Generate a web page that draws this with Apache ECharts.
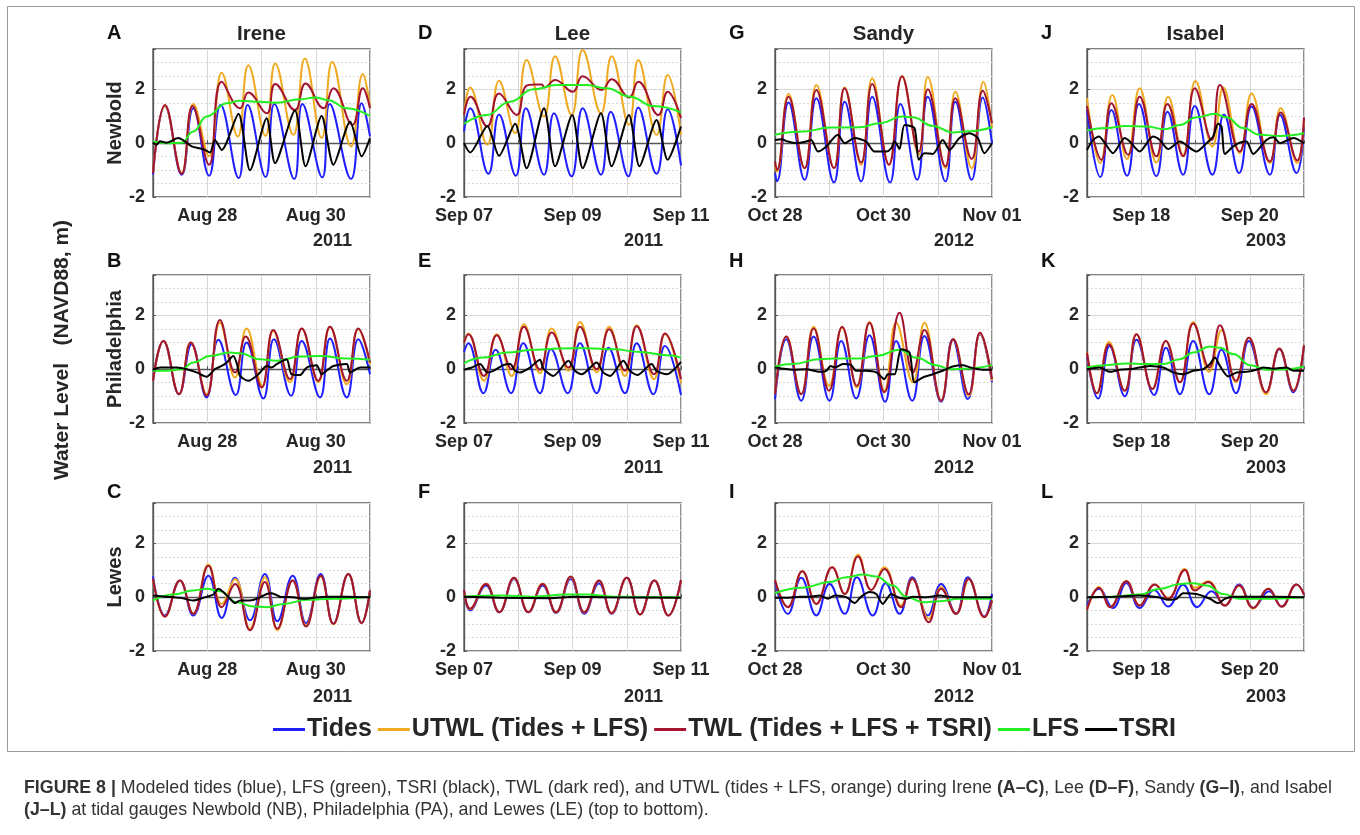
<!DOCTYPE html>
<html><head><meta charset="utf-8">
<script src="https://cdn.jsdelivr.net/npm/echarts@6/dist/echarts.min.js"></script>
<style>html,body{margin:0;padding:0;background:#fff}#c{width:1360px;height:835px}</style>
</head><body><div id="c"></div>
<script>
// ---- labels ----
const seriesNames = ['Tides','UTWL (Tides + LFS)','TWL (Tides + LFS + TSRI)','LFS','TSRI'];
const storms = ['Irene','Lee','Sandy','Isabel'];
const gauges = ['Newbold','Philadelphia','Lewes'];
const panelLetters = [['A','D','G','J'],['B','E','H','K'],['C','F','I','L']];
const xLabelsIrene = ['', 'Aug 28', '', 'Aug 30', ''];
const xLabelsLee = ['Sep 07', '', 'Sep 09', '', 'Sep 11'];
const xLabelsSandy = ['Oct 28', '', 'Oct 30', '', 'Nov 01'];
const xLabelsIsabel = ['', 'Sep 18', '', 'Sep 20', ''];
const years = ['2011','2011','2012','2003'];
const yTickLabels = [-2, 0, 2];
// x values: hours from panel start (4 days); y: water level (m)
// ---- Irene / Newbold (A) ----
const A_tides=[[0,-1.17],[5.3,1.38],[12.7,-1.17],[17.8,1.30],[24.8,-1.21],[29.9,1.42],[37.9,-1.30],[41.9,1.42],[49.8,-1.26],[53.7,1.46],[62.5,-1.33],[66.1,1.46],[74.9,-1.27],[78.2,1.46],[87.6,-1.33],[92.3,1.48],[96,0.25]];
const A_utwl=[[0,-1.11],[5.3,1.38],[12.7,-1.11],[17.8,1.46],[24.8,-0.49],[30.4,2.62],[37.5,0.25],[42.2,2.90],[49.8,0.27],[54.1,2.96],[62.1,0.31],[67.2,3.15],[74.6,0.19],[79.3,3.02],[87.6,-0.12],[92.8,2.57],[96,1.36]];
const A_twl=[[0,-1.11],[5.3,1.42],[12.7,-1.14],[17.5,1.38],[24.8,-0.80],[30.4,2.28],[38.5,1.30],[42.2,1.88],[50.3,1.11],[54.1,2.20],[62.8,1.23],[67.5,2.22],[75.4,1.30],[79.8,2.04],[88.2,0.68],[92.8,2.04],[96,1.30]];
const A_lfs=[[0,0.06],[6.0,0],[12.7,0.02],[17.8,0.43],[23.7,0.99],[32.6,1.48],[38.5,1.58],[47.3,1.54],[54.7,1.50],[65.0,1.63],[71.7,1.70],[77.6,1.60],[85.7,1.30],[96,1.01]];
const A_tsri=[[0,0.02],[1.6,-0.06],[3.1,0.07],[6.0,0.02],[11.2,0.19],[14.2,0.06],[17.1,-0.12],[22.3,-0.22],[25.2,-0.35],[27.4,0.12],[30.4,-0.25],[37.8,1.09],[42.9,-1.01],[50.3,0.93],[54.0,-0.74],[62.8,1.21],[67.5,-0.86],[74.6,1.01],[79.8,-0.80],[87.2,0.80],[92.3,-0.49],[96,0.19]];
// ---- Lee / Newbold (D) ----
const D_tides=[[0,0.43],[2.7,1.30],[10.8,-1.14],[15.5,1.07],[22.9,-1.21],[27.4,1.30],[35.4,-1.17],[39.8,1.11],[47.6,-1.23],[52.5,1.30],[60.6,-1.17],[64.9,1.17],[72.7,-1.23],[77.1,1.33],[85.2,-1.14],[90.1,1.26],[96,-0.83]];
const D_utwl=[[0,1.05],[2.7,2.07],[10.3,-0.06],[15.5,2.32],[22.6,0.37],[27.7,3.09],[35.4,0.99],[40.3,3.23],[47.6,1.05],[52.5,3.46],[60.6,1.11],[65.3,3.23],[73.0,0.68],[77.1,3.09],[85.2,0.31],[90.1,2.53],[96,0.31]];
const D_twl=[[0,1.05],[2.9,1.73],[10.3,0.62],[15.5,1.85],[23.3,1.05],[27.4,2.12],[31.5,2.18],[34.4,2.18],[35.6,2.07],[40.3,2.35],[48.1,1.91],[52.5,2.49],[60.9,1.98],[65.3,2.38],[73.1,1.70],[77.1,2.28],[86.0,1.05],[90.1,1.91],[96,0.93]];
const D_lfs=[[0,0.72],[10.0,1.05],[20.4,1.54],[30.7,2.00],[41.0,2.16],[54.3,2.16],[63.1,2.04],[73.4,1.73],[83.8,1.38],[96,1.14]];
const D_tsri=[[0,0],[2.7,-0.35],[10.3,0.64],[15.5,-0.47],[22.6,0.72],[27.7,-0.93],[35.4,1.30],[40.3,-0.86],[47.9,1.05],[52.5,-0.93],[60.6,1.11],[65.3,-0.86],[73.0,1.05],[77.6,-0.86],[85.2,0.86],[90.1,-0.62],[96,0.62]];
// ---- Sandy / Newbold (G) ----
const G_tides=[[0,-1.11],[0.9,-1.42],[6.0,1.51],[13.1,-1.36],[18.3,1.67],[26.1,-1.46],[30.8,1.54],[38.1,-1.42],[43.0,1.73],[50.9,-1.46],[55.5,1.46],[62.9,-1.36],[67.6,1.73],[75.4,-1.42],[79.8,1.54],[87.0,-1.36],[91.9,1.70],[96,0]];
const G_utwl=[[0,-0.86],[0.9,-1.05],[6.0,1.83],[13.1,-0.93],[18.3,2.16],[26.1,-0.93],[30.8,2.07],[38.1,-0.80],[43.0,2.41],[50.4,-0.80],[56.2,2.49],[63.6,-0.43],[67.6,2.47],[75.4,-0.93],[79.8,1.91],[87.0,-0.93],[92.2,2.28],[96,0.56]];
const G_twl=[[0,-0.68],[0.9,-0.99],[6.0,1.73],[13.1,-0.93],[18.3,1.98],[26.1,-0.93],[30.8,2.04],[38.1,-0.72],[43.0,2.20],[50.4,-0.80],[56.2,2.49],[63.6,-0.31],[67.6,2.00],[75.4,-0.86],[79.8,1.67],[87.0,-0.59],[91.9,1.95],[96,0.74]];
const G_lfs=[[0,0.31],[12.4,0.43],[24.1,0.58],[37.4,0.59],[46.2,0.74],[56.5,0.99],[61.0,0.96],[69.8,0.64],[78.6,0.40],[84.4,0.43],[96,0.59]];
const G_tsri=[[0,0.12],[2.8,0.15],[5.7,0.06],[9.4,0],[13.8,0.06],[16.0,0.12],[19.0,-0.31],[22.7,-0.12],[27.8,0.31],[30.8,0],[35.2,0.19],[40.3,0.06],[44.0,-0.31],[49.2,-0.31],[51.4,-0.19],[52.9,0.06],[55.1,-0.22],[57.3,0.68],[61.7,0.56],[63.6,-0.62],[66.1,-0.37],[69.8,-0.40],[74.2,0.12],[77.2,-0.25],[81.6,0.19],[86.0,0.37],[89.7,0.19],[92.6,-0.37],[96,0]];
// ---- Isabel / Newbold (J) ----
const J_tides=[[0,1.23],[5.9,-1.26],[10.8,1.23],[17.7,-1.21],[23.0,1.46],[30.7,-1.23],[35.6,1.17],[42.5,-1.17],[47.7,1.38],[55.5,-1.17],[60.6,1.07],[67.3,-1.11],[72.8,1.36],[80.9,-1.17],[85.4,1.05],[92.7,-1.11],[96,0.62]];
const J_utwl=[[0,1.67],[5.9,-0.74],[11.2,1.79],[17.7,-0.59],[23.3,2.04],[30.7,-0.72],[35.9,1.73],[42.5,-0.43],[48.0,2.31],[55.5,-0.12],[60.3,2.07],[67.6,-0.37],[72.8,1.85],[80.9,-0.74],[85.7,1.30],[93.0,-0.74],[96,0.93]];
const J_twl=[[0,1.38],[6.4,-0.62],[10.8,1.48],[18.2,-0.43],[23.3,1.73],[30.7,-0.49],[35.6,1.46],[42.5,-0.49],[47.7,2.04],[55.1,0.12],[58.8,2.16],[67.6,-0.31],[72.8,1.46],[80.9,-0.68],[85.7,1.14],[93.0,-0.64],[96,0.96]];
const J_lfs=[[0,0.47],[8.6,0.56],[17.4,0.64],[26.3,0.62],[34.4,0.52],[41.1,0.68],[48.4,0.96],[56.6,1.09],[61.7,0.96],[69.1,0.56],[76.5,0.31],[85.4,0.27],[96,0.37]];
const J_tsri=[[0,-0.25],[2.7,0.12],[5.3,0.25],[7.8,0.02],[11.5,-0.37],[16.7,0.19],[18.9,0.06],[23.3,-0.31],[29.2,0.25],[32.2,0.12],[35.9,-0.22],[41.1,0.06],[48.4,-0.31],[52.9,0],[55.8,0.25],[58.0,0.72],[59.5,0.62],[61.0,-0.40],[64.7,-0.12],[67.6,0.02],[70.6,0.06],[73.5,-0.40],[79.4,0.12],[82.4,0.22],[85.4,0],[91.3,0.19],[96,0]];
// ---- Irene / Philadelphia (B) ----
const B_tides=[[0,-0.43],[4.6,1.05],[11.5,-0.93],[17.1,0.93],[23.7,-1.05],[28.9,1.09],[36.6,-0.96],[41.4,0.99],[48.8,-1.09],[53.5,1.11],[61.1,-0.99],[65.8,1.05],[73.9,-1.05],[78.3,1.14],[85.7,-1.05],[90.8,1.11],[96,-0.19]];
const B_utwl=[[0,-0.43],[4.6,1.05],[11.5,-0.93],[16.7,0.99],[23.7,-0.93],[29.6,1.73],[36.3,-0.31],[41.4,1.51],[48.4,-0.62],[53.2,1.42],[60.6,-0.49],[65.8,1.51],[73.1,-0.49],[78.3,1.58],[85.7,-0.56],[90.8,1.48],[96,0.19]];
const B_twl=[[0,-0.43],[4.6,1.05],[11.5,-0.93],[16.7,0.99],[23.7,-0.99],[29.6,1.83],[36.3,-0.12],[41.0,1.21],[48.1,-0.68],[53.2,1.46],[60.6,-0.37],[65.8,1.51],[73.1,-0.43],[78.3,1.58],[85.7,-0.43],[90.8,1.51],[96,0.25]];
const B_lfs=[[0,-0.06],[6.0,-0.06],[12.7,0],[17.8,0.25],[25.2,0.49],[34.0,0.62],[38.5,0.59],[47.3,0.37],[54.7,0.31],[65.0,0.47],[73.9,0.49],[85.7,0.40],[96,0.35]];
const B_tsri=[[0,-0.02],[3.1,0.06],[10.5,0.06],[14.9,0],[19.3,-0.12],[23.7,-0.28],[27.4,0],[30.4,0.12],[32.6,0.25],[35.5,0.49],[37.3,0.15],[38.5,-0.25],[42.2,-0.43],[46.6,-0.19],[50.3,0.12],[52.5,0.06],[54.7,0.19],[59.1,0.37],[61.3,-0.19],[65.0,-0.22],[68.0,0.06],[72.4,0.15],[74.6,-0.19],[77.6,0],[79.8,0.12],[85.7,0.19],[87.2,-0.12],[91.6,0.06],[96,0.06]];
// ---- Lee / Philadelphia (E) ----
const E_tides=[[0,0.64],[1.9,0.96],[8.6,-0.89],[14.0,0.72],[20.8,-0.89],[26.2,0.96],[33.6,-0.89],[38.5,0.74],[45.9,-0.89],[51.3,0.96],[58.7,-0.89],[63.9,0.80],[71.2,-0.89],[76.4,0.96],[83.8,-0.93],[88.9,0.86],[96,-0.96]];
const E_utwl=[[0,0.99],[1.9,1.33],[8.8,-0.43],[14.5,1.30],[21.1,-0.25],[26.5,1.67],[33.6,-0.15],[38.8,1.51],[46.2,-0.06],[51.3,1.75],[58.7,-0.12],[64.2,1.58],[71.2,-0.25],[76.4,1.63],[84.1,-0.37],[88.9,1.30],[96,-0.52]];
const E_twl=[[0,0.99],[1.9,1.30],[8.8,-0.25],[14.5,1.26],[21.1,0],[26.5,1.58],[33.6,-0.02],[38.8,1.36],[46.2,0.06],[51.3,1.58],[58.7,0],[64.2,1.48],[71.2,-0.06],[76.4,1.60],[84.1,-0.19],[88.9,1.33],[96,-0.37]];
const E_lfs=[[0,0.22],[8.6,0.43],[18.9,0.62],[30.7,0.72],[42.5,0.77],[54.3,0.78],[66.1,0.74],[77.9,0.64],[89.7,0.52],[96,0.43]];
const E_tsri=[[0,-0.02],[3.4,0.06],[7.1,0.19],[10.3,-0.12],[13.0,-0.06],[17.4,0.15],[20.4,0.19],[22.6,-0.06],[24.8,-0.12],[29.2,0.06],[33.6,0.35],[35.1,0.02],[39.5,-0.25],[46.2,0.31],[49.1,-0.06],[52.1,-0.19],[58.7,0.25],[61.6,-0.12],[64.6,-0.25],[70.5,0.31],[73.4,-0.06],[76.7,-0.22],[83.0,0.19],[85.2,-0.06],[89.7,-0.19],[96,0.27]];
// ---- Sandy / Philadelphia (H) ----
const H_tides=[[0,-1.11],[5.0,1.11],[11.6,-1.17],[17.1,1.21],[24.1,-1.17],[29.3,1.05],[35.9,-1.09],[41.8,1.26],[48.7,-1.21],[53.6,1.05],[60.7,-1.17],[66.1,1.23],[73.5,-1.21],[78.6,1.11],[85.3,-1.11],[90.7,1.30],[96,-0.49]];
const H_utwl=[[0,-0.93],[5.0,1.21],[11.6,-0.93],[17.1,1.58],[23.9,-0.62],[29.7,1.54],[36.2,-0.68],[41.8,1.75],[48.4,-0.80],[53.6,1.73],[61.0,-0.49],[66.1,1.73],[73.5,-1.17],[78.9,1.11],[85.7,-0.99],[90.7,1.33],[96,-0.43]];
const H_twl=[[0,-0.93],[5.0,1.21],[11.6,-0.93],[17.1,1.51],[23.9,-0.80],[29.7,1.58],[36.2,-0.62],[41.8,1.73],[48.4,-0.86],[55.1,2.10],[61.0,-0.12],[66.1,1.46],[73.5,-1.17],[78.9,1.11],[85.7,-0.93],[90.7,1.36],[96,-0.37]];
const H_lfs=[[0,0.10],[8.0,0.19],[19.7,0.37],[27.1,0.40],[37.4,0.40],[44.8,0.49],[55.1,0.72],[62.4,0.43],[71.3,0.15],[77.2,0],[84.4,0.02],[96,0.15]];
const H_tsri=[[0,0.06],[8.0,-0.02],[13.8,0],[19.7,-0.10],[22.7,-0.06],[24.6,0.12],[26.4,0.06],[30.0,0.19],[33.7,0.15],[35.9,-0.06],[40.3,-0.06],[44.8,-0.12],[48.4,-0.37],[49.9,-0.19],[52.9,-0.19],[55.8,0.74],[59.5,0.62],[61.7,-0.49],[65.4,-0.31],[69.8,-0.19],[74.2,-0.06],[78.6,0.10],[83.0,0.15],[86.7,0.06],[91.9,-0.02],[96,-0.02]];
// ---- Isabel / Philadelphia (K) ----
const K_tides=[[0,0.50],[4.9,-1.09],[10.0,0.86],[16.7,-1.01],[21.9,1.09],[29.7,-0.96],[34.9,0.80],[41.1,-0.93],[47.0,1.05],[54.1,-0.93],[59.5,0.72],[65.9,-0.89],[71.6,1.05],[79.2,-0.89],[85.1,0.74],[91.3,-0.86],[96,0.86]];
const K_utwl=[[0,0.62],[4.4,-0.89],[9.7,1.01],[16.7,-0.80],[21.9,1.30],[28.9,-0.74],[34.9,1.05],[41.1,-0.49],[47.0,1.75],[54.1,-0.10],[59.5,1.45],[65.9,-0.49],[71.6,1.17],[79.2,-0.93],[85.1,0.77],[91.3,-0.80],[96,0.89]];
const K_twl=[[0,0.62],[4.4,-0.89],[9.7,0.93],[16.7,-0.80],[21.9,1.30],[28.9,-0.74],[34.9,1.05],[41.1,-0.49],[47.0,1.70],[54.1,0.06],[58.8,1.63],[65.9,-0.43],[71.6,1.17],[79.2,-0.86],[85.1,0.77],[91.3,-0.80],[96,0.89]];
const K_lfs=[[0,0.06],[8.6,0.15],[17.4,0.21],[26.3,0.19],[33.7,0.19],[41.1,0.37],[47.0,0.62],[54.4,0.84],[58.8,0.80],[64.7,0.56],[72.1,0.15],[79.4,-0.02],[88.3,0],[96,0.10]];
const K_tsri=[[0,0],[5.6,0.06],[10.0,-0.10],[14.5,-0.02],[20.4,0.02],[27.8,0.12],[33.7,0.06],[38.1,-0.12],[42.5,-0.19],[47.0,-0.06],[51.4,0],[54.4,0.19],[56.6,0.43],[58.8,0.12],[62.5,-0.27],[66.2,-0.12],[70.6,-0.10],[75.0,-0.02],[78.0,0.06],[82.4,0.02],[88.3,0.06],[91.3,-0.06],[96,-0.06]];
// ---- Irene / Lewes (C) ----
const C_tides=[[0,0.77],[5.3,-0.68],[11.9,0.62],[17.8,-0.68],[24.5,0.80],[30.4,-0.77],[36.3,0.72],[42.9,-0.86],[49.5,0.86],[55.0,-0.89],[61.8,0.80],[67.7,-0.96],[74.2,0.86],[79.8,-0.99],[86.4,0.86],[92.3,-0.96],[96,0.25]];
const C_utwl=[[0,0.68],[5.3,-0.72],[11.9,0.62],[17.8,-0.62],[24.5,1.21],[30.4,-0.25],[36.3,0.68],[42.9,-1.17],[49.5,0.74],[55.0,-1.23],[61.8,0.62],[67.7,-1.05],[74.2,0.77],[79.8,-1.01],[86.4,0.86],[92.3,-0.96],[96,0.25]];
const C_twl=[[0,0.68],[5.3,-0.72],[11.9,0.62],[17.8,-0.62],[24.5,1.17],[30.4,-0.37],[36.3,0.49],[42.9,-1.23],[49.5,0.56],[55.0,-1.17],[61.8,0.62],[67.7,-1.09],[74.2,0.80],[79.8,-0.99],[86.4,0.86],[92.3,-0.96],[96,0.25]];
const C_lfs=[[0,-0.12],[9.0,0.10],[17.8,0.25],[23.7,0.31],[29.6,0.22],[37.0,-0.19],[44.4,-0.35],[50.3,-0.37],[57.7,-0.25],[68.0,-0.10],[79.8,-0.06],[96,0.02]];
const C_tsri=[[0,0.06],[6.0,0.02],[11.9,-0.02],[17.8,-0.12],[22.3,-0.02],[26.7,0.10],[28.9,0.31],[31.1,0.19],[34.1,-0.06],[36.3,-0.22],[38.5,-0.12],[42.9,-0.12],[45.9,-0.06],[50.3,0.12],[52.5,0.15],[56.2,0.02],[62.1,0],[67.2,-0.06],[70.9,-0.02],[76.8,0.02],[85.7,0.02],[96,0]];
// ---- Lee / Lewes (F) ----
const F_tides=[[0,0.25],[2.7,-0.49],[9.7,0.43],[15.6,-0.56],[22.1,0.68],[28.5,-0.56],[34.8,0.43],[40.7,-0.59],[47.2,0.68],[53.2,-0.62],[59.7,0.52],[65.3,-0.62],[72.0,0.72],[77.9,-0.64],[84.2,0.62],[90.4,-0.68],[96,0.64]];
const F_utwl=[[0,0.25],[2.7,-0.45],[9.7,0.50],[15.6,-0.55],[22.1,0.70],[28.5,-0.55],[34.8,0.50],[40.7,-0.57],[47.2,0.74],[53.2,-0.57],[59.7,0.60],[65.3,-0.60],[72.0,0.72],[77.9,-0.64],[84.2,0.62],[90.4,-0.68],[96,0.64]];
const F_twl=[[0,0.27],[2.7,-0.43],[9.7,0.49],[15.6,-0.56],[22.1,0.72],[28.5,-0.56],[34.8,0.49],[40.7,-0.56],[47.2,0.77],[53.2,-0.56],[59.7,0.62],[65.3,-0.59],[72.0,0.72],[77.9,-0.64],[84.2,0.62],[90.4,-0.68],[96,0.64]];
const F_lfs=[[0,0.02],[15.9,0.06],[30.7,0.02],[45.4,0.10],[54.3,0.10],[66.1,0.02],[96,0]];
const F_tsri=[[0,0.02],[15.9,-0.02],[38.0,-0.04],[48.4,0.02],[63.1,0],[96,-0.02]];
// ---- Sandy / Lewes (I) ----
const I_tides=[[0,0.56],[5.7,-0.62],[11.6,0.72],[18.3,-0.68],[24.1,0.49],[30.8,-0.62],[36.2,0.74],[43.3,-0.68],[48.9,0.52],[55.1,-0.62],[60.7,0.74],[67.6,-0.68],[73.5,0.49],[80.1,-0.62],[85.3,0.74],[92.6,-0.72],[96,0.12]];
const I_utwl=[[0,0.64],[5.7,-0.37],[12.1,0.96],[18.3,-0.25],[25.3,1.11],[30.8,0.12],[36.7,1.58],[42.6,0.27],[48.4,1.11],[55.8,-0.31],[60.7,0.68],[68.0,-0.80],[73.5,0.37],[80.1,-0.62],[85.7,0.68],[92.6,-0.74],[96,-0.12]];
const I_twl=[[0,0.64],[5.7,-0.37],[12.1,0.96],[18.3,-0.25],[25.3,1.11],[30.8,0.12],[36.7,1.51],[42.6,0.27],[48.4,1.05],[55.8,-0.37],[60.7,0.68],[68.0,-0.93],[73.5,0.31],[80.1,-0.62],[85.7,0.68],[92.6,-0.74],[96,-0.12]];
const I_lfs=[[0,0.15],[12.4,0.35],[24.1,0.56],[31.5,0.74],[38.9,0.84],[44.8,0.77],[52.1,0.43],[58.0,0.02],[65.4,-0.19],[72.7,-0.15],[81.6,-0.06],[96,-0.06]];
const I_tsri=[[0,-0.02],[5.0,-0.02],[10.9,0.02],[16.0,0.02],[19.7,0.06],[23.4,-0.06],[26.4,0.06],[31.5,0],[35.2,-0.22],[38.1,0.02],[41.8,0.19],[44.8,0.12],[47.7,-0.25],[51.4,0.12],[54.3,0],[58.0,-0.06],[61.0,0.02],[66.9,0],[72.7,0.06],[78.6,0],[96,0]];
// ---- Isabel / Lewes (L) ----
const L_tides=[[0,-0.31],[5.3,0.31],[11.5,-0.40],[17.4,0.53],[23.3,-0.40],[29.7,0.27],[35.9,-0.35],[42.5,0.46],[48.7,-0.37],[55.1,0.22],[61.0,-0.31],[67.3,0.47],[73.5,-0.40],[80.6,0.22],[86.1,-0.35],[92.7,0.47],[96,0.10]];
const L_utwl=[[0,-0.47],[5.3,0.38],[10.3,-0.37],[17.4,0.59],[23.3,-0.31],[30.0,0.47],[35.9,-0.04],[43.3,1.05],[47.7,0.35],[53.6,0.59],[61.0,-0.31],[67.3,0.43],[73.5,-0.42],[80.2,0.31],[86.1,-0.35],[92.7,0.47],[96,0.10]];
const L_twl=[[0,-0.47],[5.3,0.35],[10.3,-0.37],[17.4,0.59],[23.3,-0.31],[30.0,0.47],[35.9,-0.06],[43.3,1.01],[47.7,0.25],[53.6,0.56],[61.0,-0.31],[67.3,0.43],[73.5,-0.40],[80.2,0.31],[86.1,-0.35],[92.7,0.47],[96,0.10]];
const L_lfs=[[0,0],[11.5,0.02],[23.3,0.10],[32.2,0.31],[41.1,0.49],[47.0,0.52],[52.9,0.43],[60.3,0.12],[67.6,-0.06],[76.5,-0.06],[96,0]];
const L_tsri=[[0,0],[11.5,0.02],[23.3,0.06],[31.5,0],[35.9,-0.10],[39.6,-0.06],[42.5,0.15],[48.4,0.12],[54.4,-0.06],[58.0,-0.22],[61.0,-0.06],[64.7,0.02],[73.5,0.02],[96,0]];

// panels in row-major order (row = gauge, col = storm)
const panelData = [
  [A_tides,A_utwl,A_twl,A_lfs,A_tsri],[D_tides,D_utwl,D_twl,D_lfs,D_tsri],[G_tides,G_utwl,G_twl,G_lfs,G_tsri],[J_tides,J_utwl,J_twl,J_lfs,J_tsri],
  [B_tides,B_utwl,B_twl,B_lfs,B_tsri],[E_tides,E_utwl,E_twl,E_lfs,E_tsri],[H_tides,H_utwl,H_twl,H_lfs,H_tsri],[K_tides,K_utwl,K_twl,K_lfs,K_tsri],
  [C_tides,C_utwl,C_twl,C_lfs,C_tsri],[F_tides,F_utwl,F_twl,F_lfs,F_tsri],[I_tides,I_utwl,I_twl,I_lfs,I_tsri],[L_tides,L_utwl,L_twl,L_lfs,L_tsri]
];
const colXLabels = [xLabelsIrene, xLabelsLee, xLabelsSandy, xLabelsIsabel];

// ---- layout & style ----
const FONT = 'Liberation Sans, Arial, Helvetica, sans-serif';
const colors = ['#1f1fff','#efaa22','#a2142f','#22ee22','#000000'];
const colLeft = [153, 464, 775, 1087];
const rowTop = [49, 275, 503];
const PW = 217, PH = 148;
const titleY = [34, 262, 493];
const yearY = [241, 468, 697];
const TXT = '#262626';

const grid = [], xAxis = [], yAxis = [], series = [], graphic = [];
for (let r = 0; r < 3; r++) {
  for (let c = 0; c < 4; c++) {
    const gi = r * 4 + c;
    grid.push({left: colLeft[c], top: rowTop[r], width: PW, height: PH, show: true, borderColor: '#555', borderWidth: 1.3, backgroundColor: 'transparent'});
    const labs = colXLabels[c];
    xAxis.push({type: 'value', gridIndex: gi, min: 0, max: 96, interval: 24,
      axisLine: {show: true, lineStyle: {color: '#555', width: 1.3}},
      axisTick: {show: true, inside: true, length: 3, lineStyle: {color: '#555'}},
      axisLabel: {show: true, showMinLabel: true, showMaxLabel: true, margin: 10, color: TXT, fontSize: 18, fontWeight: 'bold', fontFamily: FONT,
        formatter: v => labs[Math.round(v / 24)] || ''},
      splitLine: {show: true, lineStyle: {color: '#d6d6d6', width: 1}}});
    yAxis.push({type: 'value', gridIndex: gi, min: -2, max: 3.5, interval: 2,
      axisLine: {show: true, lineStyle: {color: '#555', width: 1.3}},
      axisTick: {show: true, inside: true, length: 3, lineStyle: {color: '#555'}},
      axisLabel: {margin: 8, color: TXT, fontSize: 18, fontWeight: 'bold', fontFamily: FONT,
        formatter: v => yTickLabels.indexOf(v) >= 0 ? String(v) : ''},
      splitLine: {show: true, lineStyle: {color: '#d6d6d6', width: 1}}});
    yAxis.push({type: 'value', gridIndex: gi, min: -2, max: 3.5, interval: 0.5, position: 'left',
      axisLine: {show: false}, axisTick: {show: false}, axisLabel: {show: false},
      splitLine: {show: true, lineStyle: {color: '#d9d9d9', width: 1, type: [2, 2]}}});
    panelData[gi].forEach((d, k) => {
      series.push({type: 'line', name: seriesNames[k], xAxisIndex: gi, yAxisIndex: gi * 2,
        data: d, showSymbol: false, symbol: 'none', smooth: k === 4 ? 0.25 : 0.45, smoothMonotone: k === 3 ? 'x' : undefined,
        lineStyle: {color: colors[k], width: 2}, itemStyle: {color: colors[k]}, z: 3 + k, silent: true});
    });
    graphic.push({type: 'text', left: colLeft[c] - 46, top: titleY[r] - 11,
      style: {text: panelLetters[r][c], font: 'bold 20px ' + FONT, fill: '#111'}});
    graphic.push({type: 'text', x: colLeft[c] + PW - 18, y: yearY[r],
      style: {text: years[c], font: 'bold 18px ' + FONT, fill: TXT, textAlign: 'right', textVerticalAlign: 'middle'}});
  }
}
storms.forEach((s, c) => graphic.push({type: 'text', x: colLeft[c] + PW / 2, y: 34,
  style: {text: s, font: 'bold 20.5px ' + FONT, fill: TXT, textAlign: 'center', textVerticalAlign: 'middle'}}));
gauges.forEach((g, r) => graphic.push({type: 'text', x: 115, y: rowTop[r] + PH / 2, rotation: Math.PI / 2,
  style: {text: g, font: 'bold 20px ' + FONT, fill: TXT, textAlign: 'center', textVerticalAlign: 'middle'}}));
graphic.push({type: 'text', x: 62, y: 350, rotation: Math.PI / 2,
  style: {text: 'Water Level   (NAVD88, m)', font: 'bold 21px ' + FONT, fill: TXT, textAlign: 'center', textVerticalAlign: 'middle'}});
// frame
graphic.push({type: 'rect', shape: {x: 7.5, y: 6.5, width: 1347, height: 745}, style: {fill: 'none', stroke: '#9a9a9a', lineWidth: 1}, z: -1});
// caption
const capRich = {b: {font: 'bold 17.8px ' + FONT, fill: '#333'}, n: {font: '17.8px ' + FONT, fill: '#333'}};
graphic.push({type: 'text', left: 24, top: 779, style: {rich: capRich,
  text: '{b|FIGURE 8 |}{n| Modeled tides (blue), LFS (green), TSRI (black), TWL (dark red), and UTWL (tides + LFS, orange) during Irene }{b|(A–C)}{n|, Lee }{b|(D–F)}{n|, Sandy }{b|(G–I)}{n|, and Isabel}'}});
graphic.push({type: 'text', left: 24, top: 801, style: {rich: capRich,
  text: '{b|(J–L)}{n| at tidal gauges Newbold (NB), Philadelphia (PA), and Lewes (LE) (top to bottom).}'}});

const chart = echarts.init(document.getElementById('c'), null, {renderer: 'canvas'});
chart.setOption({
  animation: false, backgroundColor: '#fff',
  grid, xAxis, yAxis, series, graphic,
  legend: {data: seriesNames, left: 268, top: 712, icon: 'rect', itemWidth: 32, itemHeight: 3, itemGap: 6,
    textStyle: {fontSize: 25, fontWeight: 'bold', color: TXT, fontFamily: FONT, padding: [0, 0, 0, -3]},
    selectedMode: false}
});
</script></body></html>
